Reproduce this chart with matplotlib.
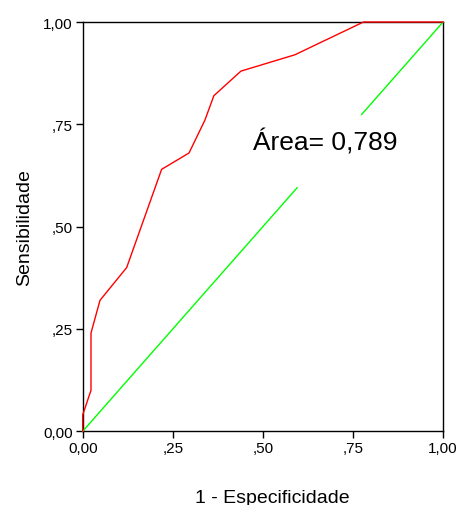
import matplotlib
matplotlib.use("Agg")
import matplotlib.pyplot as plt

plt.rcParams['font.family'] = ['Liberation Sans', 'DejaVu Sans']

# ROC curve values (1 - specificity, sensitivity)
fpr = [0.0, 0.0, 0.023, 0.023, 0.048, 0.122, 0.219, 0.295, 0.339, 0.364, 0.439, 0.589, 0.779, 1.0]
tpr = [0.0, 0.04, 0.10, 0.24, 0.32, 0.40, 0.64, 0.68, 0.76, 0.82, 0.88, 0.92, 1.0, 1.0]

# reference diagonal (interrupted by the label)
ref_lo = [0.0, 0.595]
ref_hi = [0.774, 1.0]

ticks = [0.0, 0.25, 0.5, 0.75, 1.0]
tick_labels = ["0,00", ",25", ",50", ",75", "1,00"]
area_text = "Área= 0,789"

fig = plt.figure(figsize=(4.62, 5.06), dpi=100)
ax = fig.add_axes([0.179, 0.1457, 0.780, 0.8088])

ax.plot(ref_lo, ref_lo, color="#00ff00", lw=1.0, zorder=3, clip_on=False)
ax.plot(ref_hi, ref_hi, color="#00ff00", lw=1.0, zorder=3, clip_on=False)
ax.plot(fpr, tpr, color="#ff0000", lw=1.0, zorder=3, clip_on=False)

ax.set_xlim(0, 1)
ax.set_ylim(0, 1)
ax.set_xticks(ticks)
ax.set_xticklabels(tick_labels)
ax.set_yticks(ticks)
ax.set_yticklabels(tick_labels)
ax.tick_params(direction="out", length=5, width=1, labelsize=11, pad=2, colors="black")
for s in ax.spines.values():
    s.set_linewidth(1.0)
    s.set_color("black")

ax.set_xlabel("1 - Especificidade", fontsize=14, va="center")
ax.xaxis.set_label_coords(0.525, -0.163)
ax.set_ylabel("Sensibilidade", fontsize=14, va="center")
ax.yaxis.set_label_coords(-0.162, 0.5)

ax.text(0.473, 0.709, area_text, fontsize=19, va="center", ha="left")

fig.savefig("out.png", dpi=100, facecolor="white")
